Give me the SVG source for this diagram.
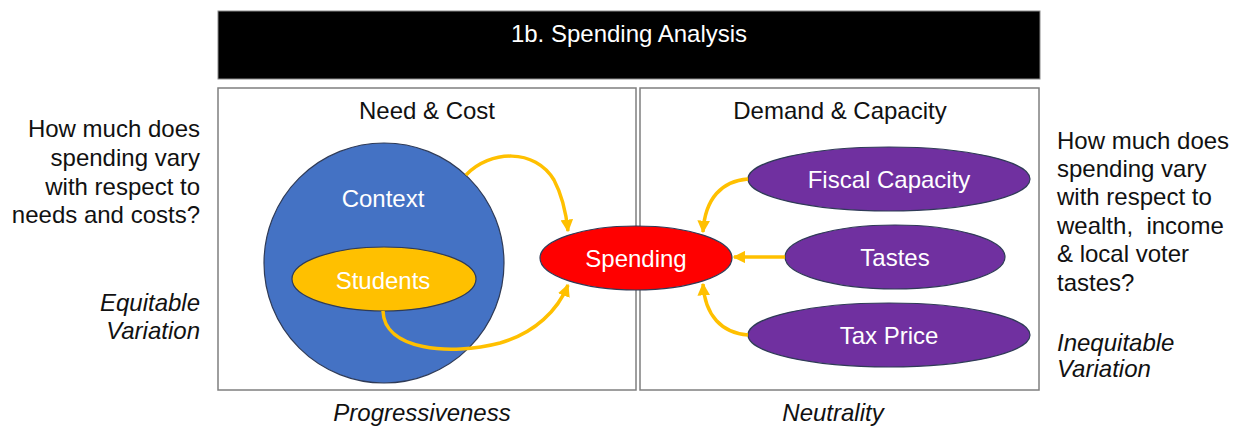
<svg xmlns="http://www.w3.org/2000/svg" width="1239" height="429" viewBox="0 0 1239 429">
  <style>
    text { font-family: "Liberation Sans", Arial, sans-serif; font-size: 24px; }
    .w { fill: #ffffff; text-anchor: middle; }
    .k { fill: #111111; }
    .c { text-anchor: middle; }
    .r { text-anchor: end; }
    .i { font-style: italic; }
    .panel { fill: #ffffff; stroke: #7f7f7f; stroke-width: 1.5; }
    .node { stroke: #2f3b57; stroke-width: 1.2; }
    .link { fill: none; stroke: #FFC000; stroke-width: 3.5; }
  </style>
  <defs>
    <marker id="ah" viewBox="0 0 10 10" refX="9" refY="5" markerWidth="3.6" markerHeight="3.6" orient="auto" markerUnits="strokeWidth">
      <path d="M0,0 L10,5 L0,10 z" fill="#FFC000"/>
    </marker>
  </defs>

  <rect width="1239" height="429" fill="#ffffff"/>

  <!-- header bar -->
  <g id="header">
    <rect x="218" y="11" width="822" height="68" fill="#000000" stroke="#8a8a8a" stroke-width="1"/>
    <text class="w" x="629" y="41.5">1b. Spending Analysis</text>
  </g>

  <!-- panels -->
  <g id="panel-need">
    <rect class="panel" x="218" y="88" width="418" height="302"/>
    <text class="k c" x="427" y="118.5">Need &amp; Cost</text>
  </g>
  <g id="panel-demand">
    <rect class="panel" x="640" y="88" width="399" height="302"/>
    <text class="k c" x="840" y="118.5">Demand &amp; Capacity</text>
  </g>

  <!-- side notes -->
  <g id="note-left">
    <text class="k r" x="200" y="137">How much does</text>
    <text class="k r" x="200" y="166">spending vary</text>
    <text class="k r" x="200" y="195">with respect to</text>
    <text class="k r" x="200" y="223">needs and costs?</text>
    <text class="k r i" x="200" y="311">Equitable</text>
    <text class="k r i" x="200" y="339">Variation</text>
  </g>
  <g id="note-right">
    <text class="k" x="1057" y="149">How much does</text>
    <text class="k" x="1057" y="177">spending vary</text>
    <text class="k" x="1057" y="205">with respect to</text>
    <text class="k" x="1057" y="234" xml:space="preserve">wealth,  income</text>
    <text class="k" x="1057" y="262">&amp; local voter</text>
    <text class="k" x="1057" y="291">tastes?</text>
    <text class="k i" x="1057" y="351">Inequitable</text>
    <text class="k i" x="1057" y="377">Variation</text>
  </g>

  <!-- bottom labels -->
  <g id="footer">
    <text class="k c i" x="422" y="421">Progressiveness</text>
    <text class="k c i" x="833" y="421">Neutrality</text>
  </g>

  <!-- nodes -->
  <g id="context">
    <circle class="node" cx="384" cy="263" r="120" fill="#4472C4"/>
    <text class="w" x="383" y="206.5">Context</text>
  </g>
  <g id="students">
    <ellipse class="node" cx="384" cy="279" rx="92" ry="32" fill="#FFC000"/>
    <text class="w" x="383" y="288.5">Students</text>
  </g>
  <g id="spending">
    <ellipse class="node" cx="636" cy="258" rx="96" ry="32" fill="#FF0000"/>
    <text class="w" x="636" y="267">Spending</text>
  </g>
  <g id="fiscal-capacity">
    <ellipse class="node" cx="889" cy="179" rx="141" ry="32" fill="#7030A0"/>
    <text class="w" x="889" y="188">Fiscal Capacity</text>
  </g>
  <g id="tastes">
    <ellipse class="node" cx="895" cy="257" rx="110" ry="32" fill="#7030A0"/>
    <text class="w" x="895" y="266">Tastes</text>
  </g>
  <g id="tax-price">
    <ellipse class="node" cx="889" cy="335" rx="141" ry="32" fill="#7030A0"/>
    <text class="w" x="889" y="344">Tax Price</text>
  </g>

  <!-- connectors -->
  <g id="connectors">
    <path class="link" marker-end="url(#ah)" d="M466,175 C490,150 535,148 554,180 C562,195 566,212 568,231"/>
    <path class="link" marker-end="url(#ah)" d="M383,311 C384,350 450,356 500,343 C535,333 558,310 568,285"/>
    <path class="link" marker-end="url(#ah)" d="M748,179 C722,181 705,198 703,232"/>
    <path class="link" marker-end="url(#ah)" d="M785,257 L734,257"/>
    <path class="link" marker-end="url(#ah)" d="M748,335 C722,333 705,316 703,284"/>
  </g>
</svg>
